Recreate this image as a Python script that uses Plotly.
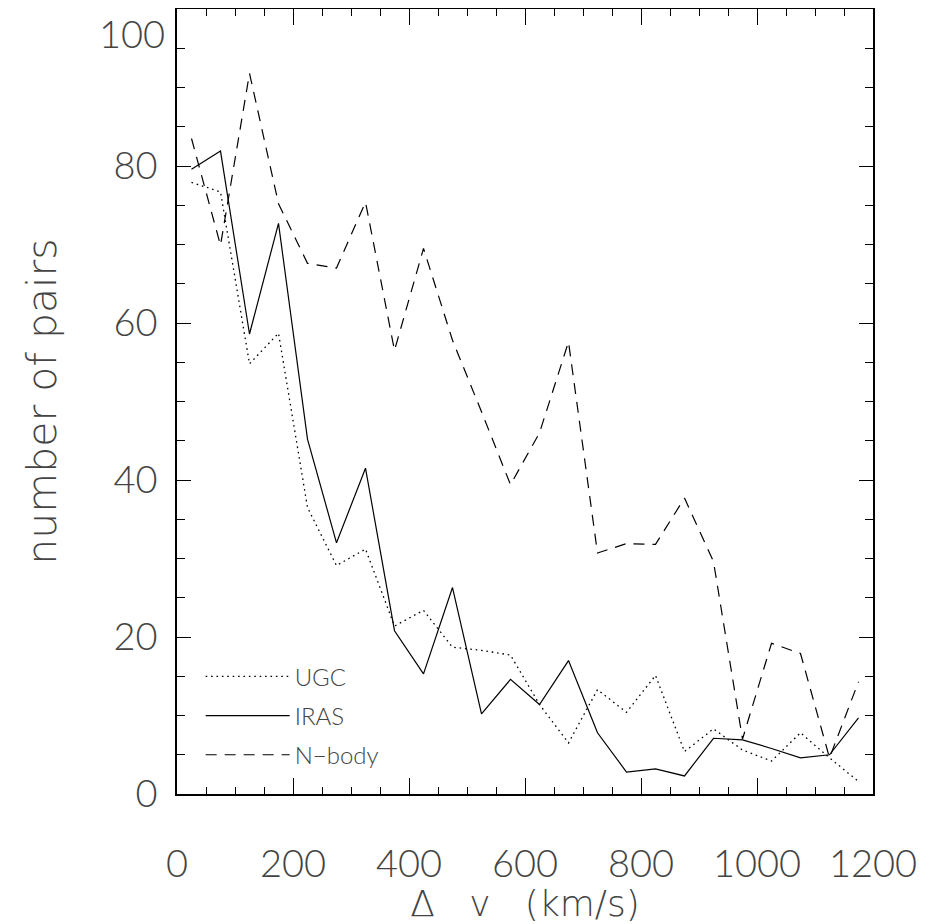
import plotly.graph_objects as go

dv = [25, 75, 125, 175, 225, 275, 325, 375, 425, 475, 525, 575,
      625, 675, 725, 775, 825, 875, 925, 975, 1025, 1075, 1125, 1175]
ugc = [77.9, 76.7, 54.8, 58.7, 36.5, 29.1, 31.2, 21.4, 23.4, 18.7, 18.3, 17.7,
       11.4, 6.5, 13.3, 10.4, 15.1, 5.4, 8.3, 5.6, 4.2, 7.8, 4.6, 1.6]
iras = [79.6, 81.9, 58.6, 72.7, 45.2, 32.0, 41.5, 20.8, 15.3, 26.3, 10.2, 14.6,
        11.4, 17.0, 7.8, 2.8, 3.2, 2.3, 7.1, 6.9, 5.8, 4.6, 5.0, 9.7]
nbody = [83.5, 69.9, 91.8, 75.2, 67.6, 67.0, 75.4, 56.5, 69.5, 57.8, 48.7, 39.4,
         46.0, 57.6, 30.7, 31.9, 31.8, 37.7, 29.6, 7.0, 19.2, 17.9, 4.6, 14.3]

x_ticks = [0, 200, 400, 600, 800, 1000, 1200]
y_ticks = [0, 20, 40, 60, 80, 100]
y_ticktext = ["0", "20", "40", "60", "80", ""]   # top label placed just below the frame edge
y_top_label = "100"

FONT = "Lato"
TFONT = "DejaVu Sans"
TXT = "#444444"

fig = go.Figure()
fig.add_trace(go.Scatter(x=dv, y=ugc, mode="lines", name="UGC", legendgroup="a",
                         line=dict(color="black", width=1.3, dash="1.6px,3.8px")))
fig.add_trace(go.Scatter(x=dv, y=iras, mode="lines", name="IRAS", legendgroup="b",
                         line=dict(color="black", width=1.2)))
fig.add_trace(go.Scatter(x=dv, y=nbody, mode="lines", name="N\u2212body", legendgroup="c",
                         line=dict(color="black", width=1.2, dash="11px,8px")))

axis_common = dict(showgrid=False, zeroline=False, showline=True, linecolor="black",
                   linewidth=1.5, mirror="ticks", ticks="inside", tickcolor="black",
                   tickwidth=1.2, ticklabeloverflow="allow")

fig.update_xaxes(range=[0, 1200], tickvals=x_ticks, ticklen=16,
                 minor=dict(ticks="inside", ticklen=7, dtick=50, tickcolor="black", tickwidth=1.2),
                 tickfont=dict(family=FONT, size=38, color=TXT, weight=300),
                 ticklabelstandoff=36,
                 title=dict(text="\u0394   v   (km/s)", font=dict(family=TFONT, size=36, color=TXT, weight=200),
                            standoff=6),
                 **axis_common)
fig.update_yaxes(range=[0, 100], tickvals=y_ticks, ticktext=y_ticktext, ticklen=14,
                 minor=dict(ticks="inside", ticklen=8, dtick=5, tickcolor="black", tickwidth=1.2),
                 tickfont=dict(family=FONT, size=38, color=TXT, weight=300),
                 ticklabelstandoff=10,
                 title=dict(text="number of pairs", font=dict(family=TFONT, size=41, color=TXT, weight=200),
                            standoff=44),
                 **axis_common)

fig.add_annotation(text=y_top_label, xref="paper", yref="paper", x=0, y=1,
                   xanchor="right", yanchor="top", xshift=-11, yshift=0, borderpad=0,
                   showarrow=False,
                   font=dict(family=FONT, size=38, color=TXT, weight=300))

fig.update_layout(
    width=922, height=916,
    margin=dict(l=169, r=57, t=1, b=130, autoexpand=False),
    paper_bgcolor="white", plot_bgcolor="white",
    showlegend=True,
    legend=dict(x=0.034, y=0.178, xanchor="left", yanchor="top",
                bgcolor="rgba(0,0,0,0)", itemwidth=84, tracegroupgap=5,
                font=dict(family=FONT, size=24, color=TXT, weight=300)),
)

fig.write_html("out.html")
